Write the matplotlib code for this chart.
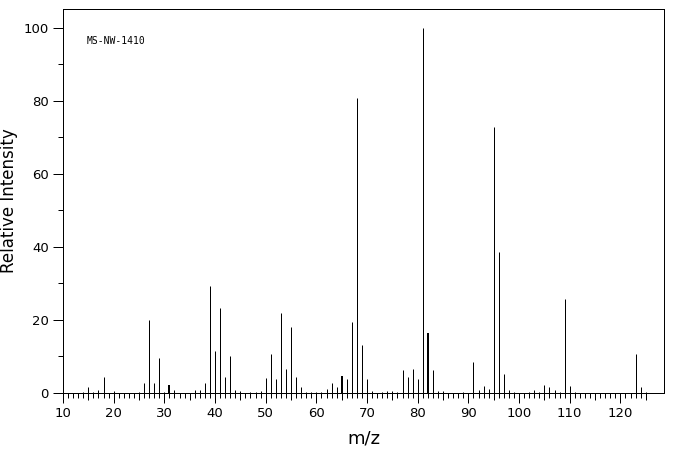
import matplotlib
matplotlib.use('Agg')
import matplotlib.pyplot as plt
from matplotlib.ticker import MultipleLocator, FixedLocator

# Peak list (m/z, relative intensity)
mz = [14, 15, 16, 17, 18, 20, 25, 26, 27, 28, 29, 30, 31, 32, 36, 37, 38, 39,
      40, 41, 42, 43, 44, 45, 47, 48, 49, 50, 51, 52, 53, 54, 55, 56, 57, 58,
      59, 60, 61, 62, 63, 64, 65, 66, 67, 68, 69, 70, 71, 73, 74, 75, 76, 77,
      78, 79, 80, 81, 82, 83, 84, 85, 89, 91, 92, 93, 94, 95, 96, 97, 98, 99,
      102, 103, 104, 105, 106, 107, 108, 109, 110, 111, 123, 124, 125]
intensity = [0.4, 1.7, 0.4, 0.9, 4.5, 0.6, 0.4, 2.8, 20.1, 2.8, 9.7, 0.4, 2.3, 0.9,
             0.9, 0.9, 2.8, 29.2, 11.6, 23.4, 4.5, 10.0, 0.9, 0.6, 0.4, 0.4, 0.6,
             4.2, 10.8, 3.7, 22.0, 6.7, 18.2, 4.5, 1.7, 0.4, 0.4, 0.4, 0.4, 1.2,
             2.8, 1.7, 4.7, 3.9, 19.5, 80.8, 13.2, 3.7, 0.6, 0.4, 0.6, 0.6, 0.4,
             6.4, 4.5, 6.7, 3.7, 100.0, 16.5, 6.4, 0.6, 0.6, 0.4, 8.6, 0.9, 2.0,
             1.2, 73.0, 38.5, 5.3, 0.9, 0.4, 0.4, 0.9, 0.4, 2.3, 1.7, 0.9, 0.4,
             25.8, 2.0, 0.4, 10.8, 1.7, 0.4]
# peaks that print as a double-width stroke
wide_peaks = [31, 65, 82]

x_major = list(range(10, 121, 10))
x_mid = list(range(15, 126, 10))
x_minor = [m for m in range(10, 126) if m % 10 != 0]
sample_id = 'MS-NW-1410'

W, H = 676, 455
fig = plt.figure(figsize=(W / 100, H / 100), dpi=100)
# axes box in pixels: left 63, right 664, top 9, bottom 393
ax = fig.add_axes([63 / W, (H - 393) / H, (664 - 63) / W, (393 - 9) / H])

px = 72 / 100  # one pixel in points
thin = [m for m in mz if m not in wide_peaks]
ax.vlines(thin, 0, [intensity[mz.index(m)] for m in thin],
          colors='black', linewidth=px)
ax.vlines(wide_peaks, 0, [intensity[mz.index(m)] for m in wide_peaks],
          colors='black', linewidth=2 * px)

ax.set_xlim(10, 128.6)
ax.set_ylim(0, 105.2)

for s in ax.spines.values():
    s.set_linewidth(px)

ax.xaxis.set_major_locator(FixedLocator(x_major))
ax.xaxis.set_minor_locator(FixedLocator(x_minor))
ax.yaxis.set_major_locator(MultipleLocator(20))
ax.yaxis.set_minor_locator(MultipleLocator(10))
ax.tick_params(axis='both', which='major', direction='out', length=10 * px,
               width=px, labelsize=9.5, pad=3)
ax.tick_params(axis='both', which='minor', direction='out', length=5 * px, width=px)

# medium-length ticks at the fives (7 px below the axis)
ax.vlines(x_mid, -7 / 384, 0, transform=ax.get_xaxis_transform(),
          colors='black', linewidth=px, clip_on=False)

ax.set_xlabel('m/z', fontsize=13, labelpad=7)
ax.set_ylabel('Relative Intensity', fontsize=12, labelpad=4)

fig.text(87 / W, 1 - 41 / H, sample_id, fontsize=7,
         family='DejaVu Sans Mono', va='center')

fig.savefig('out.png', dpi=100)
